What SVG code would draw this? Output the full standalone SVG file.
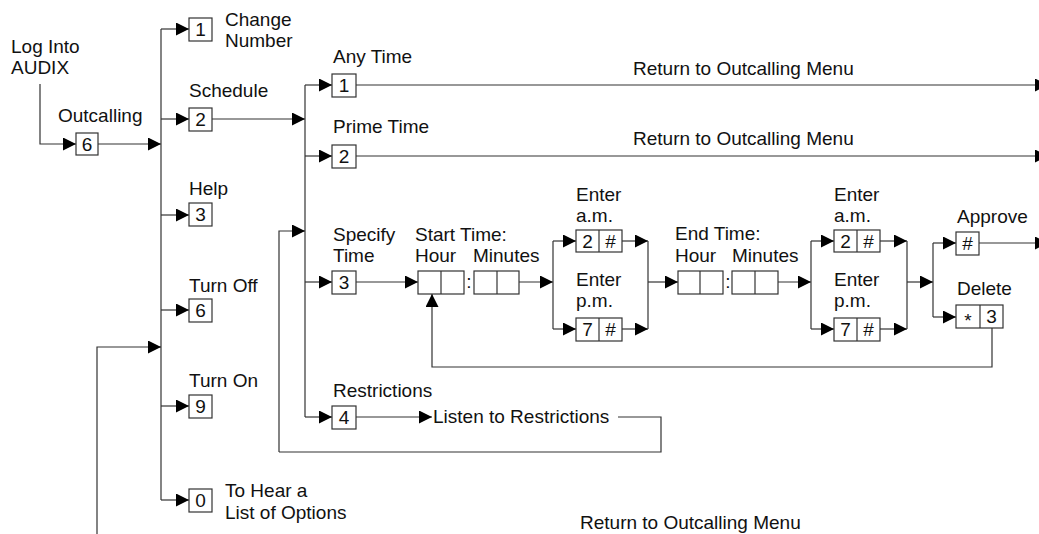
<svg xmlns="http://www.w3.org/2000/svg" width="1039" height="534" viewBox="0 0 1039 534">
<style>
text{font-family:"Liberation Sans",Arial,sans-serif;font-size:19px;fill:#111}
.c{text-anchor:middle}
.b{fill:#fff;stroke:#333;stroke-width:1.2}
.l{fill:none;stroke:#333;stroke-width:1.2}
.a{marker-end:url(#ah)}
</style>
<defs>
<marker id="ah" markerUnits="userSpaceOnUse" markerWidth="14" markerHeight="14" refX="13" refY="6.5" orient="auto">
<path d="M0,0 L13,6.5 L0,13 z" fill="#000"/>
</marker>
</defs>
<rect width="1039" height="534" fill="#fff"/>
<g id="connectors">
<polyline class="l a" points="40,84 40,144 76,144"/>
<line class="l a" x1="98" y1="144" x2="161" y2="144"/>
<line class="l" x1="161" y1="29" x2="161" y2="500"/>
<line class="l a" x1="161" y1="29" x2="189" y2="29"/>
<line class="l a" x1="161" y1="119" x2="189" y2="119"/>
<line class="l a" x1="161" y1="215" x2="189" y2="215"/>
<line class="l a" x1="161" y1="310" x2="189" y2="310"/>
<line class="l a" x1="161" y1="406" x2="189" y2="406"/>
<line class="l a" x1="161" y1="500" x2="189" y2="500"/>
<polyline class="l a" points="97,534 97,347 161,347"/>
<line class="l a" x1="212" y1="119" x2="305" y2="119"/>
<line class="l" x1="305" y1="85" x2="305" y2="417"/>
<line class="l a" x1="305" y1="85" x2="332" y2="85"/>
<line class="l a" x1="305" y1="156" x2="332" y2="156"/>
<line class="l a" x1="305" y1="282" x2="332" y2="282"/>
<line class="l a" x1="305" y1="417" x2="332" y2="417"/>
<line class="l a" x1="356" y1="85" x2="1048" y2="85"/>
<line class="l a" x1="356" y1="156" x2="1048" y2="156"/>
<polyline class="l a" points="279,452 279,231 305,231"/>
<line class="l a" x1="356" y1="417" x2="432" y2="417"/>
<polyline class="l" points="618,417 661,417 661,452 279,452"/>
<line class="l a" x1="356" y1="282" x2="418" y2="282"/>
<line class="l a" x1="519" y1="282" x2="553" y2="282"/>
<line class="l" x1="553" y1="241" x2="553" y2="329"/>
<line class="l a" x1="553" y1="241" x2="576" y2="241"/>
<line class="l a" x1="553" y1="329" x2="576" y2="329"/>
<line class="l a" x1="622" y1="241" x2="648" y2="241"/>
<line class="l a" x1="622" y1="329" x2="648" y2="329"/>
<line class="l" x1="648" y1="241" x2="648" y2="329"/>
<line class="l a" x1="648" y1="282" x2="678" y2="282"/>
<line class="l a" x1="778" y1="282" x2="811" y2="282"/>
<line class="l" x1="811" y1="241" x2="811" y2="329"/>
<line class="l a" x1="811" y1="241" x2="834" y2="241"/>
<line class="l a" x1="811" y1="329" x2="834" y2="329"/>
<line class="l a" x1="880" y1="241" x2="907" y2="241"/>
<line class="l a" x1="880" y1="329" x2="907" y2="329"/>
<line class="l" x1="907" y1="241" x2="907" y2="329"/>
<line class="l a" x1="907" y1="282" x2="933" y2="282"/>
<line class="l" x1="933" y1="243" x2="933" y2="317"/>
<line class="l a" x1="933" y1="243" x2="956" y2="243"/>
<line class="l a" x1="933" y1="317" x2="956" y2="317"/>
<line class="l a" x1="979" y1="243" x2="1048" y2="243"/>
<polyline class="l a" points="992,328 992,367 432,367 432,294"/>
</g>
<g id="start"><text x="11" y="53">Log Into<tspan x="11" y="74">AUDIX</tspan></text></g>
<g id="outcalling"><text x="58" y="122">Outcalling</text><rect class="b" x="76" y="133" width="22" height="22"/><text class="c" x="87" y="150.5">6</text></g>
<g id="change-number"><rect class="b" x="189" y="18" width="23" height="23"/><text class="c" x="200.5" y="36">1</text><text x="225" y="26">Change<tspan x="225" y="47">Number</tspan></text></g>
<g id="schedule"><text x="189" y="97">Schedule</text><rect class="b" x="189" y="108" width="23" height="23"/><text class="c" x="200.5" y="126">2</text></g>
<g id="help"><text x="189" y="195">Help</text><rect class="b" x="189" y="203" width="23" height="23"/><text class="c" x="200.5" y="221">3</text></g>
<g id="turn-off"><text x="189" y="292">Turn Off</text><rect class="b" x="189" y="299" width="23" height="23"/><text class="c" x="200.5" y="317">6</text></g>
<g id="turn-on"><text x="189" y="387">Turn On</text><rect class="b" x="189" y="395" width="23" height="23"/><text class="c" x="200.5" y="413">9</text></g>
<g id="options"><rect class="b" x="189" y="489" width="23" height="23"/><text class="c" x="200.5" y="507">0</text><text x="225" y="497">To Hear a<tspan x="225" y="519">List of Options</tspan></text></g>
<g id="any-time"><text x="333" y="63">Any Time</text><rect class="b" x="332" y="74" width="24" height="23"/><text class="c" x="344" y="92">1</text><text x="633" y="75">Return to Outcalling Menu</text></g>
<g id="prime-time"><text x="333" y="133">Prime Time</text><rect class="b" x="332" y="145" width="24" height="23"/><text class="c" x="344" y="163">2</text><text x="633" y="145">Return to Outcalling Menu</text></g>
<g id="specify-time"><text x="333" y="241">Specify<tspan x="333" y="262">Time</tspan></text><rect class="b" x="332" y="271" width="24" height="23"/><text class="c" x="344" y="289">3</text></g>
<g id="restrictions"><text x="333" y="397">Restrictions</text><rect class="b" x="332" y="406" width="24" height="23"/><text class="c" x="344" y="424">4</text></g>
<g id="listen"><text x="433" y="423">Listen to Restrictions</text></g>
<g id="start-time"><text x="415" y="241">Start Time:</text><text x="415" y="262">Hour</text><text x="473" y="262">Minutes</text>
<rect class="b" x="418" y="271" width="46" height="23"/><line class="l" x1="441" y1="271" x2="441" y2="294"/><text class="c" x="469" y="288">:</text>
<rect class="b" x="474" y="271" width="45" height="23"/><line class="l" x1="497" y1="271" x2="497" y2="294"/></g>
<g id="start-am"><text x="576" y="201">Enter<tspan x="576" y="222">a.m.</tspan></text><rect class="b" x="576" y="230" width="46" height="22"/><line class="l" x1="599" y1="230" x2="599" y2="252"/><text class="c" x="587.5" y="247.5">2</text><text class="c" x="610.5" y="247.5">#</text></g>
<g id="start-pm"><text x="576" y="286">Enter<tspan x="576" y="307">p.m.</tspan></text><rect class="b" x="576" y="318" width="46" height="23"/><line class="l" x1="599" y1="318" x2="599" y2="341"/><text class="c" x="587.5" y="336">7</text><text class="c" x="610.5" y="336">#</text></g>
<g id="end-time"><text x="675" y="240">End Time:</text><text x="675" y="262">Hour</text><text x="732" y="262">Minutes</text>
<rect class="b" x="678" y="271" width="45" height="23"/><line class="l" x1="700" y1="271" x2="700" y2="294"/><text class="c" x="728" y="288">:</text>
<rect class="b" x="732" y="271" width="46" height="23"/><line class="l" x1="755" y1="271" x2="755" y2="294"/></g>
<g id="end-am"><text x="834" y="201">Enter<tspan x="834" y="222">a.m.</tspan></text><rect class="b" x="834" y="230" width="46" height="22"/><line class="l" x1="857" y1="230" x2="857" y2="252"/><text class="c" x="845.5" y="247.5">2</text><text class="c" x="868.5" y="247.5">#</text></g>
<g id="end-pm"><text x="834" y="286">Enter<tspan x="834" y="307">p.m.</tspan></text><rect class="b" x="834" y="318" width="46" height="23"/><line class="l" x1="857" y1="318" x2="857" y2="341"/><text class="c" x="845.5" y="336">7</text><text class="c" x="868.5" y="336">#</text></g>
<g id="approve"><text x="957" y="223">Approve</text><rect class="b" x="956" y="232" width="23" height="23"/><text class="c" x="967.5" y="250">#</text></g>
<g id="delete"><text x="957" y="295">Delete</text><rect class="b" x="956" y="305" width="47" height="23"/><line class="l" x1="980" y1="305" x2="980" y2="328"/><text class="c" x="968" y="327">*</text><text class="c" x="991.5" y="323">3</text></g>
<g id="return-bottom"><text x="580" y="529">Return to Outcalling Menu</text></g>
</svg>
